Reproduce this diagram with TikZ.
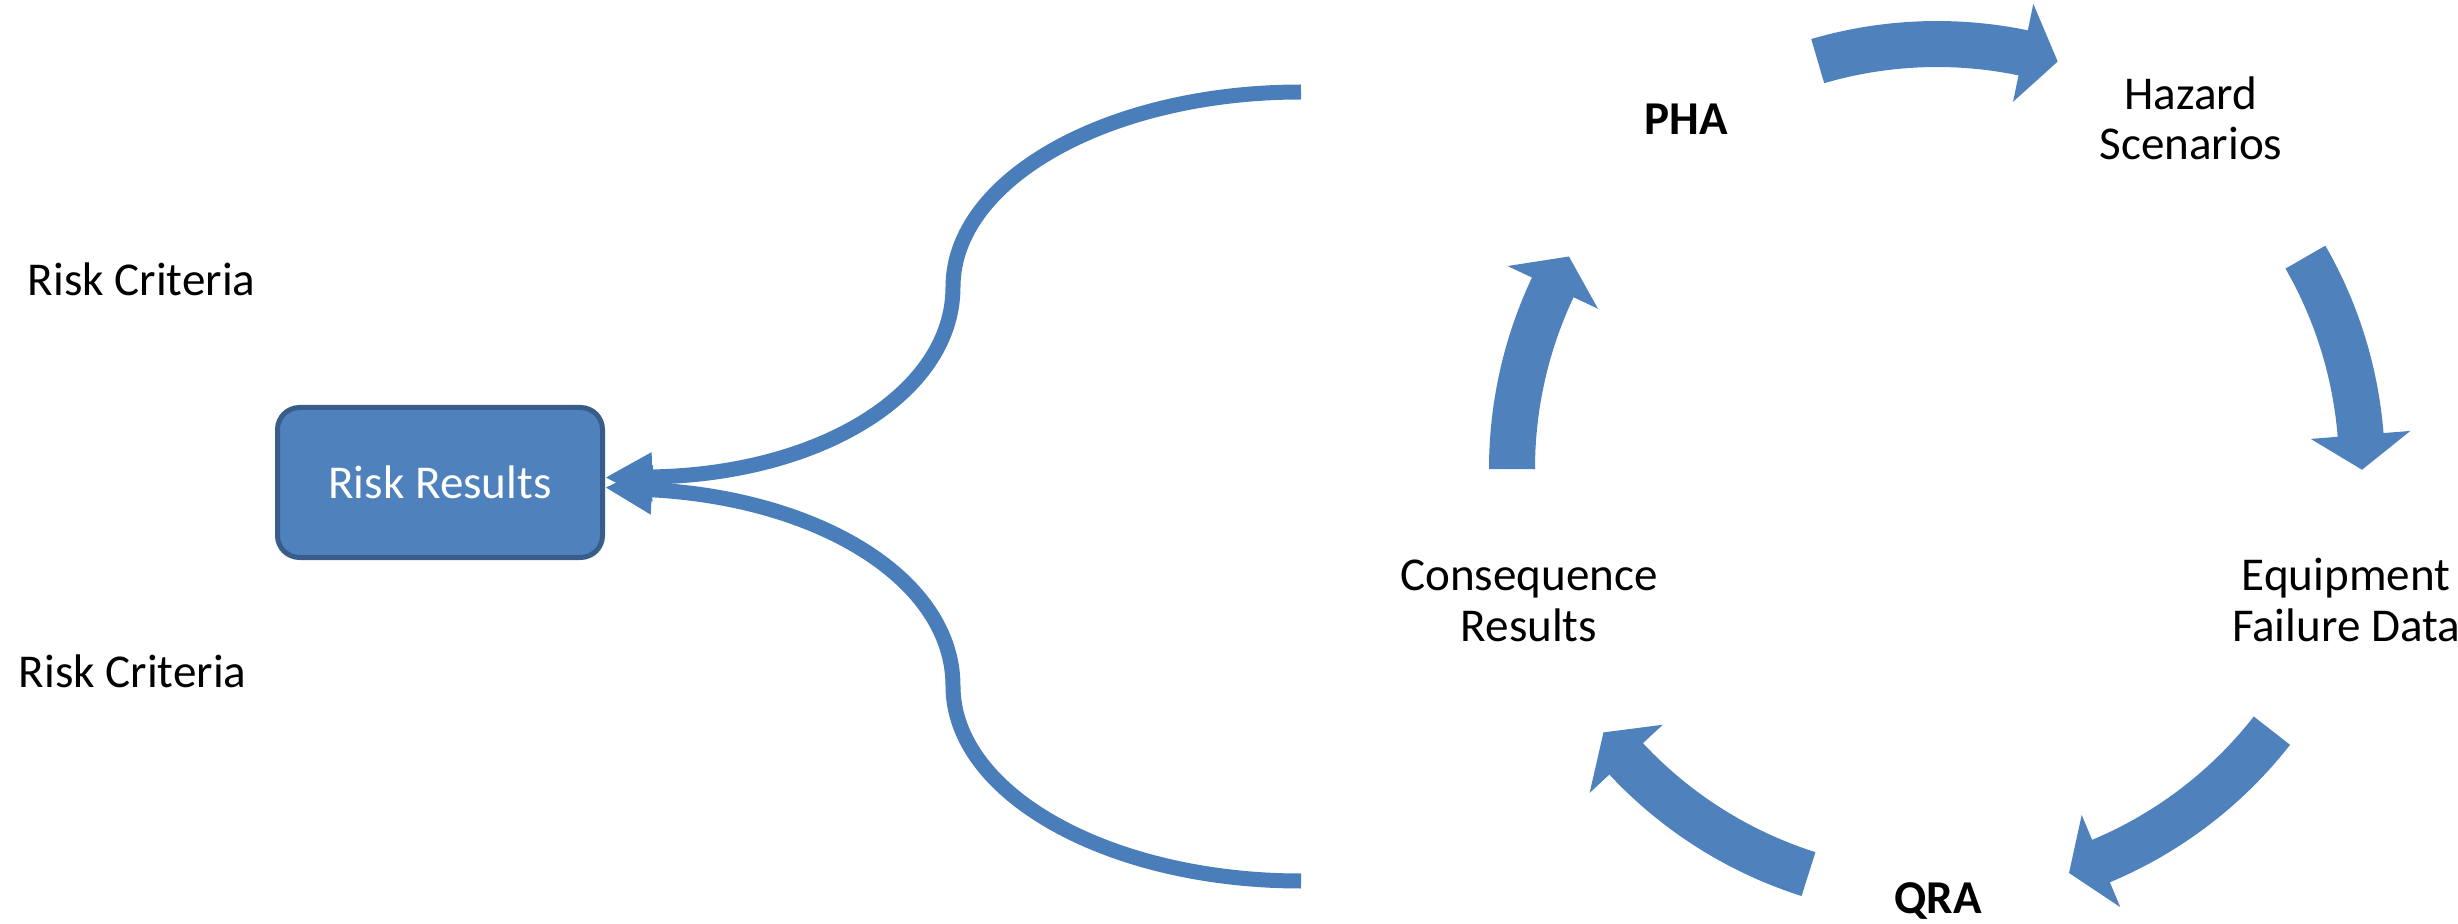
\documentclass[tikz,border=0pt]{standalone}
\usepackage{fontspec}
\setmainfont{Carlito}
\usetikzlibrary{arrows.meta}

\begin{document}
\begin{tikzpicture}
		[scale=1,
		%Styles
		label text/.style={inner sep=0pt,anchor=base,align=center,font=\fontsize{13.4}{14.4}\selectfont},
		criteria text/.style={inner sep=0pt,anchor=base west,font=\fontsize{13.4}{14.4}\selectfont},
		result box/.style={rounded corners=0.22cm,fill=boxfill,draw=boxline,line width=0.05cm,text=white,minimum width=3.25cm,minimum height=1.5cm,inner sep=0pt,font=\fontsize{13.4}{14.4}\selectfont},
		bracket line/.style={draw=bracketcolor,line width=0.15cm,-{Triangle[length=0.47cm,width=0.46cm]}},
		cycle arrow/.style={fill=boxfill}
		]
		
		%Colors
		\definecolor{boxfill}{RGB}{79,129,189}	%box and cycle arrows
		\definecolor{boxline}{RGB}{56,93,138}
		\definecolor{bracketcolor}{RGB}{74,126,187}
		
		%The graphic
		\useasboundingbox (0,0) rectangle (24.58,9.23);
		
		\node[criteria text] (crit1) at (0.27,6.27) {Risk Criteria};
		\node[criteria text] (crit2) at (0.18,2.36) {Risk Criteria};
		\node[result box] (res) at (4.40,4.405) {Risk Results};
		
		\coordinate (topend) at (13.01,8.31);
		\coordinate (botend) at (13.01,0.42);
		\draw[bracket line] (topend) .. controls (11.09,8.31) and (9.53,7.44) .. (9.53,6.36) .. controls (9.53,5.30) and (8.20,4.48) .. ([yshift=0.05cm]res.east);
		\draw[bracket line] (botend) .. controls (11.09,0.42) and (9.53,1.29) .. (9.53,2.37) .. controls (9.53,3.43) and (8.20,4.25) .. ([yshift=-0.05cm]res.east);
		
		%cycle of block arrows round (cc)
		\coordinate (cc) at (19.37,4.54);
		\foreach \s/\h/\t in {106.3/78.3/73.5, 29.9/4.6/-0.1, -38/-67.3/-71.9, -107.6/-137/-141.7, 180/154.7/150}
			\fill[cycle arrow] ([shift={(\s:4.48)}]cc) arc[start angle=\s,end angle=\h,radius=4.48] -- ([shift={(\h:4.75)}]cc) -- ([shift={(\t:4.25)}]cc) -- ([shift={(\h:3.75)}]cc) -- ([shift={(\h:4.02)}]cc) arc[start angle=\h,end angle=\s,radius=4.02] -- cycle;
		
		%labels, base = last line
		\node[label text] (pha) at (16.86,7.88) {\bfseries PHA};
		\node[label text] (haz) at (21.91,7.63) {Hazard\\Scenarios};
		\node[label text] (equip) at (23.46,2.82) {Equipment\\Failure Data};
		\node[label text] (qra) at (19.38,0.10) {\bfseries QRA};
		\node[label text] (cons) at (15.29,2.82) {Consequence\\Results};
	\end{tikzpicture}
\end{document}
